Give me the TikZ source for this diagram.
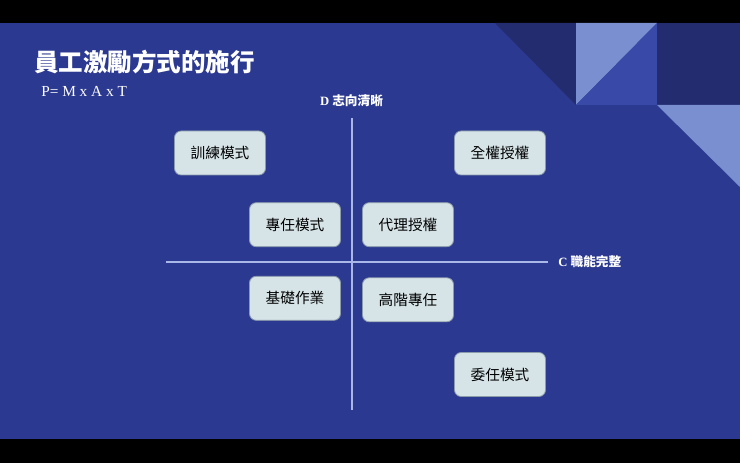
\documentclass[tikz,border=0pt]{standalone}
\usepackage{fontspec}
\setmainfont{Liberation Serif}
\newfontfamily\cjk{Noto Sans CJK TC}
\usetikzlibrary{positioning}
\definecolor{SlideBlue}{HTML}{2B3990}
\definecolor{DeepBlue}{HTML}{222C6F}
\definecolor{PaleBlue}{HTML}{7A8FCF}
\definecolor{MidBlue}{HTML}{3949A8}
\definecolor{BoxFill}{HTML}{D6E4E8}
\definecolor{BoxEdge}{HTML}{8C9CAA}
\definecolor{AxisLine}{HTML}{A9B8E8}

\begin{document}
\begin{tikzpicture}[
    x=0.75pt, y=-0.75pt,
    quad/.style={
        draw=BoxEdge, fill=BoxFill, line width=0.6pt, rounded corners=5pt,
        minimum width=68.25pt, minimum height=33pt, inner sep=0pt,
        font=\cjk\fontsize{11}{13}\selectfont, text=black
    },
    axis/.style={AxisLine, line width=0.8pt},
    axislbl/.style={text=white, font=\bfseries\fontsize{9.5}{11}\selectfont, inner sep=0pt}
]
\useasboundingbox (0,0) rectangle (740,463);

% =============================================
% SLIDE BACKGROUND
% =============================================
\fill[black] (0,0) rectangle (740,463);
\fill[SlideBlue] (0,23) rectangle (740,439);

% corner decoration
\fill[DeepBlue] (495,23) -- (576,23) -- (576,105) -- cycle;
\fill[PaleBlue] (576,23) -- (657,23) -- (576,105) -- cycle;
\fill[MidBlue] (657,23) -- (657,105) -- (576,105) -- cycle;
\fill[DeepBlue] (657,23) rectangle (740,105);
\fill[PaleBlue] (657,105) -- (740,105) -- (740,187) -- cycle;

% =============================================
% TITLE
% =============================================
\node[anchor=west, inner sep=0pt, text=white,
    font=\cjk\bfseries\fontsize{18.4}{20}\selectfont] (title) at (34,62) {員工激勵方式的施行};
\node[anchor=west, inner sep=0pt, text=white,
    font=\fontsize{11.5}{13}\selectfont] (formula) at (41,91.5) {P= M x A x T};

% =============================================
% AXES
% =============================================
\coordinate (ytop) at (352,118);
\coordinate (ybot) at (352,410);
\coordinate (xleft) at (166,262);
\coordinate (xright) at (548,262);
\draw[axis] (ytop) -- (ybot);
\draw[axis] (xleft) -- (xright);

\node[axislbl] (dlbl) at (351.5,101) {D {\cjk\bfseries 志向清晰}};
\node[axislbl, anchor=west] (clbl) at (558,262) {C {\cjk\bfseries 職能完整}};

% =============================================
% QUADRANT BOXES
% =============================================
\node[quad] (train) at (220,153) {訓練模式};
\node[quad] (full) at (500,153) {全權授權};
\node[quad] (dedic) at (295,224.7) {專任模式};
\node[quad] (proxy) at (408,224.7) {代理授權};
\node[quad] (basic) at (295,298.3) {基礎作業};
\node[quad] (senior) at (408,299.8) {高階專任};
\node[quad] (deleg) at (500,374.5) {委任模式};

\end{tikzpicture}
\end{document}
